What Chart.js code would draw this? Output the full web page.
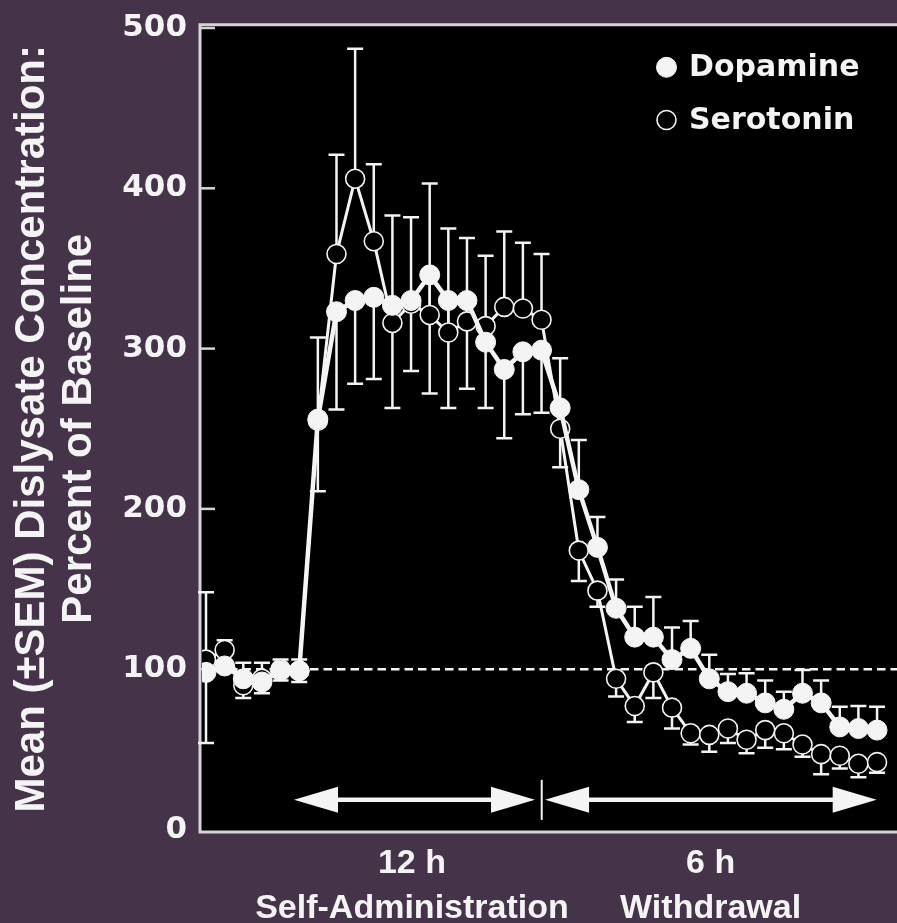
<!DOCTYPE html>
<html><head><meta charset="utf-8">
<script src="https://cdn.jsdelivr.net/npm/chart.js@4.4.1/dist/chart.umd.min.js"></script>
<style>html,body{margin:0;padding:0;background:#453449;}canvas{display:block;}</style>
</head><body>
<canvas id="c" width="897" height="923"></canvas>
<script>
// ---- data ----
const samples = [0,1,2,3,4,5,6,7,8,9,10,11,12,13,14,15,16,17,18,19,20,21,22,23,24,25,26,27,28,29,30,31,32,33,34,35,36];
const dopamine = [98,102,94,92,99,99,256,323,330,332,327,330,346,330,330,304,287,298,299,263,212,176,138,120,120,106,113,94,86,85,79,75,85,79,64,63,62];
const serotonin = [106,112,90,94,100,99,255,359,406,367,316,328,321,310,317,314,326,325,318,250,174,149,94,77,98,76,60,59,63,56,62,60,53,47,46,41,42];
const dopamineSemUp   = [50,0,10,12,7,7,51,0,0,0,0,0,0,0,0,0,0,0,0,31,31,19,18,19,25,20,17,15,11,12.5,14,11,14.5,14,12.6,14,14.6];
const dopamineSemDown = [44,0,0,0,0,0,45,61,52,51,64,44,74,67,55,41,43,39,39,0,0,0,0,0,0,0,0,0,0,0,0,0,0,0,0,0,0];
const serotoninSemUp   = [0,6,0,0,0,0,0,62,81,48,67,54,82,65,52,44,47,41,41,0,0,0,0,0,0,0,0,0,0,0,0,0,0,0,0,0,0];
const serotoninSemDown = [0,0,8,9,7,7,0,0,0,0,0,0,0,0,0,0,0,0,0,24,19,10,11,10,16,13,7,10.5,9,8.5,11,10,7.6,12.5,8,8.4,6.6];
const seriesNames = ['Dopamine','Serotonin'];
const yTicks = [0,100,200,300,400,500];
const baselineValue = 100;
const yTitle = ['Mean (\u00B1SEM) Dislysate Concentration:','Percent of Baseline'];
const phaseLabels = [['12 h','Self-Administration'],['6 h','Withdrawal']];
const phaseLabelAt = [11.05, 27.07];
const phaseSpans = [[4.72,17.65],[18.19,35.98]];
const phaseBoundary = 18.01;

// ---- style ----
const WHITE = '#f4f4f4';
const BG = '#453449';
const FRAME = '#d4d4d4';

const decor = {
  id: 'decor',
  beforeDraw(chart) {
    const {ctx, chartArea: a, width, height} = chart;
    ctx.save();
    ctx.fillStyle = BG;
    ctx.fillRect(0, 0, width, height);
    ctx.fillStyle = '#000';
    ctx.fillRect(a.left - 2, a.top - 3.3, a.right - a.left + 2, a.bottom - a.top + 6);
    ctx.restore();
  },
  beforeDatasetsDraw(chart) {
    const {ctx, chartArea: a, scales: {x, y}} = chart;
    ctx.save();
    // frame
    ctx.strokeStyle = FRAME;
    ctx.lineWidth = 3;
    ctx.beginPath();
    ctx.moveTo(a.right + 2, a.top - 3.3);
    ctx.lineTo(a.left - 2, a.top - 3.3);
    ctx.lineTo(a.left - 2, a.bottom + 2.5);
    ctx.lineTo(a.right + 2, a.bottom + 2.5);
    ctx.stroke();
    // inward tick marks
    ctx.lineWidth = 2.5;
    yTicks.forEach(v => {
      if (v === 0) return;
      const py = y.getPixelForValue(v);
      ctx.beginPath(); ctx.moveTo(a.left - 2, py); ctx.lineTo(a.left + 13, py); ctx.stroke();
    });
    // dashed baseline
    ctx.strokeStyle = WHITE;
    ctx.lineWidth = 2.6;
    ctx.setLineDash([8.5, 5]);
    const by = y.getPixelForValue(baselineValue);
    ctx.beginPath(); ctx.moveTo(a.left, by); ctx.lineTo(a.right, by); ctx.stroke();
    ctx.setLineDash([]);
    // error bars
    const bars = [[dopamine, dopamineSemUp, dopamineSemDown],[serotonin, serotoninSemUp, serotoninSemDown]];
    ctx.lineWidth = 2.5;
    ctx.strokeStyle = WHITE;
    bars.forEach(([vals, up, down]) => {
      samples.forEach((s, i) => {
        const px = x.getPixelForValue(s);
        const p0 = y.getPixelForValue(vals[i]);
        [[up[i], 1], [down[i], -1]].forEach(([e, sg]) => {
          if (!e) return;
          const pe = y.getPixelForValue(vals[i] + sg * e);
          ctx.beginPath();
          ctx.moveTo(px, p0); ctx.lineTo(px, pe);
          ctx.moveTo(px - 8, pe); ctx.lineTo(px + 8, pe);
          ctx.stroke();
        });
      });
    });
    // phase arrows
    const ay = y.getPixelForValue(18.5);
    const headL = 44, headH = 13;
    ctx.fillStyle = WHITE;
    phaseSpans.forEach(([f, t]) => {
      const x1 = x.getPixelForValue(f), x2 = x.getPixelForValue(t);
      ctx.lineWidth = 4.5;
      ctx.beginPath(); ctx.moveTo(x1 + headL - 2, ay); ctx.lineTo(x2 - headL + 2, ay); ctx.stroke();
      ctx.beginPath(); ctx.moveTo(x1, ay); ctx.lineTo(x1 + headL, ay - headH); ctx.lineTo(x1 + headL, ay + headH); ctx.closePath(); ctx.fill();
      ctx.beginPath(); ctx.moveTo(x2, ay); ctx.lineTo(x2 - headL, ay - headH); ctx.lineTo(x2 - headL, ay + headH); ctx.closePath(); ctx.fill();
    });
    const bx = x.getPixelForValue(phaseBoundary);
    ctx.lineWidth = 2;
    ctx.beginPath(); ctx.moveTo(bx, y.getPixelForValue(31)); ctx.lineTo(bx, y.getPixelForValue(6)); ctx.stroke();
    ctx.restore();
  },
  afterDatasetsDraw(chart) {
    const {ctx, chartArea: a} = chart;
    ctx.save();
    const cx = a.right - 230.5;
    chart.data.datasets.forEach((ds, k) => {
      const cy = a.top + 39.3 + k * 52.7;
      ctx.beginPath();
      ctx.arc(cx, cy, k === 0 ? 10 : 9.5, 0, Math.PI * 2);
      ctx.fillStyle = ds.pointBackgroundColor;
      ctx.fill();
      ctx.lineWidth = k === 0 ? 1 : 1.6;
      ctx.strokeStyle = ds.pointBorderColor;
      ctx.stroke();
      ctx.fillStyle = WHITE;
      ctx.font = 'bold 30px "DejaVu Sans"';
      ctx.textAlign = 'left';
      ctx.textBaseline = 'middle';
      ctx.fillText(ds.label, cx + 22.5, cy + 1);
    });
    ctx.restore();
  }
};

new Chart(document.getElementById('c').getContext('2d'), {
  type: 'line',
  data: {
    datasets: [
      { label: seriesNames[0], data: samples.map((s, i) => ({x: s, y: dopamine[i]})), order: 1,
        borderColor: WHITE, borderWidth: 4.5, pointRadius: 10, pointBackgroundColor: WHITE,
        pointBorderColor: WHITE, pointBorderWidth: 1, tension: 0 },
      { label: seriesNames[1], data: samples.map((s, i) => ({x: s, y: serotonin[i]})), order: 2,
        borderColor: WHITE, borderWidth: 3, pointRadius: 9.5, pointBackgroundColor: '#000',
        pointBorderColor: WHITE, pointBorderWidth: 1.6, tension: 0 }
    ]
  },
  options: {
    responsive: false, animation: false, devicePixelRatio: 1,
    layout: { autoPadding: false, padding: { top: 28, right: 0, left: 0, bottom: 0 } },
    plugins: { legend: { display: false }, tooltip: { enabled: false } },
    scales: {
      x: {
        type: 'linear', min: -0.215, max: 37.07,
        grid: { display: false, drawTicks: false }, border: { display: false },
        afterBuildTicks: s => { s.ticks = phaseLabelAt.map(v => ({ value: v })); },
        ticks: { autoSkip: false, maxRotation: 0, minRotation: 0, padding: 12.5, color: WHITE,
          font: { family: '"Liberation Sans", Arial, sans-serif', weight: 'bold', size: 34, lineHeight: 1.3 },
          callback: (v, i) => phaseLabels[i] },
        afterFit: s => { s.height = 93.5; s.paddingLeft = 0; s.paddingRight = 0; }
      },
      y: {
        min: 0, max: 500,
        afterBuildTicks: s => { s.ticks = yTicks.map(v => ({ value: v })); },
        grid: { display: false, drawTicks: false }, border: { display: false },
        ticks: { padding: 15, color: WHITE, font: { family: '"DejaVu Sans"', weight: 'bold', size: 31 } },
        title: { display: true, text: yTitle, color: WHITE,
          font: { family: '"Liberation Sans", Arial, sans-serif', weight: 'bold', size: 42, lineHeight: 1.12 },
          padding: { top: 9, bottom: 0 } },
        afterFit: s => { s.width = 202; s.paddingTop = 0; s.paddingBottom = 0; }
      }
    }
  },
  plugins: [decor]
});
</script>
</body></html>
